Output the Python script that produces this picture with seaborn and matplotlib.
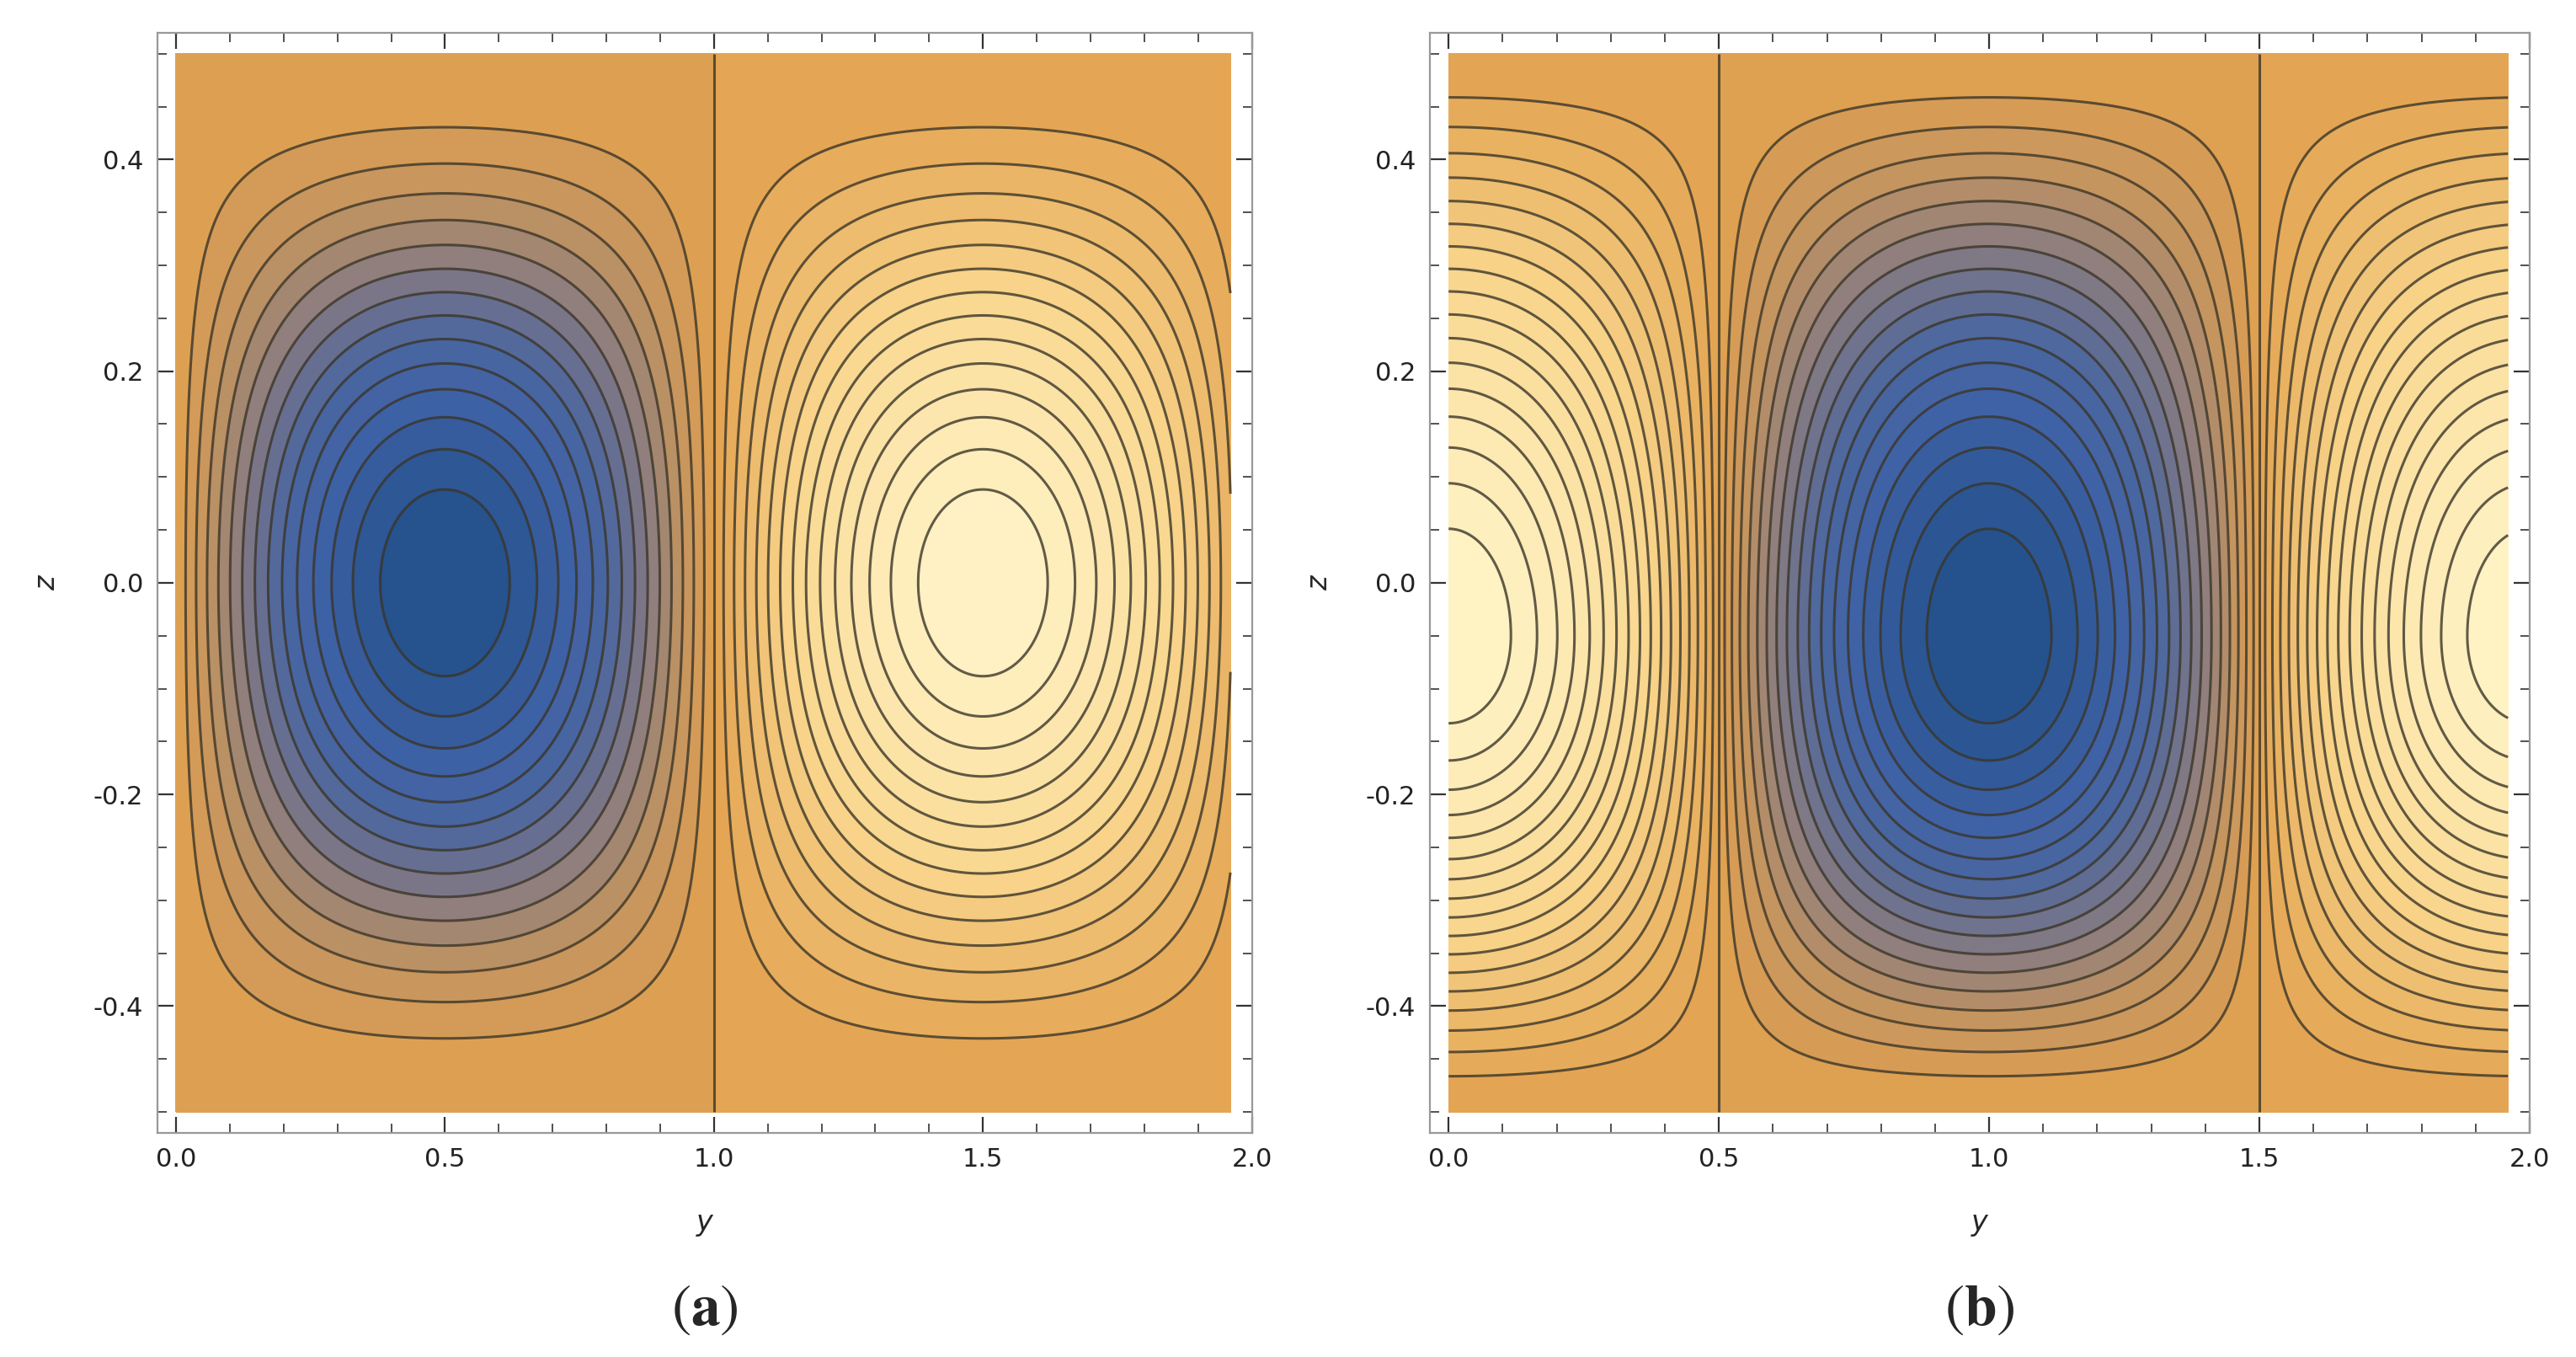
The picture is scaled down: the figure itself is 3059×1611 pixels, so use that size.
import numpy as np
import matplotlib
matplotlib.use("Agg")
import matplotlib.pyplot as plt
import seaborn as sns
from matplotlib.colors import LinearSegmentedColormap

# --- values ---
y_range = [0.0, 1.96]
z_range = [-0.5, 0.5]
# panel (a): cells centred at y=0.5 (min) and 1.5 (max), z centre 0.0
a_exp_y, a_exp_z, a_zc, a_nlev = 0.94, 1.77, 0.0, 31
# panel (b): min at y=1.0, max at y=0 / 2, centre z=-0.05
b_exp_y, b_exp_z, b_zc, b_nlev = 0.85, 1.35, -0.05, 37
x_ticks = [0.0, 0.5, 1.0, 1.5, 2.0]
z_ticks = [-0.4, -0.2, 0.0, 0.2, 0.4]
captions = ["(a)", "(b)"]

sns.set_style("ticks")
plt.rcParams['font.family'] = ['DejaVu Sans']
plt.rcParams['mathtext.fontset'] = 'stix'
plt.rcParams['contour.negative_linestyle'] = 'solid'

cmap = LinearSegmentedColormap.from_list("mma", [
    (0.0, "#22508a"), (0.12, "#3f62a6"), (0.2, "#4a66a0"), (0.3, "#857a82"),
    (0.4, "#c49460"), (0.5, "#e2a24f"), (0.72, "#f8d48a"), (1.0, "#fff3c6")])

Y, Z = np.meshgrid(np.linspace(*y_range, 400), np.linspace(*z_range, 400))

def zmap(z, zc):
    return np.where(z > zc, (z - zc) / (0.5 - zc) * 0.5, (z - zc) / (0.5 + zc) * 0.5)

s_a = np.sin(np.pi * Y)
F_a = -np.sign(s_a) * np.abs(s_a) ** a_exp_y * np.cos(np.pi * zmap(Z, a_zc)) ** a_exp_z
c_b = np.cos(np.pi * Y)
F_b = np.sign(c_b) * np.abs(c_b) ** b_exp_y * np.cos(np.pi * zmap(Z, b_zc)) ** b_exp_z

fig = plt.figure(figsize=(15.295, 8.055), dpi=200)
boxes = [[0.061, 0.165, 0.425, 0.811], [0.555, 0.165, 0.427, 0.811]]
for i, (F, n) in enumerate([(F_a, a_nlev), (F_b, b_nlev)]):
    ax = fig.add_axes(boxes[i])
    lev = np.linspace(-1.0001, 1.0001, n)
    ax.contourf(Y, Z, F, levels=lev, cmap=cmap, vmin=-1, vmax=1)
    ax.contour(Y, Z, F, levels=lev[1:-1], colors="#3a3528", linewidths=1.1,
               alpha=0.8, linestyles='solid')
    ax.set_xlim(-0.035, 2.0)
    ax.set_ylim(-0.52, 0.52)
    ax.set_xticks(x_ticks)
    ax.set_yticks(z_ticks)
    ax.set_xticks(np.arange(0, 2.0, 0.1), minor=True)
    ax.set_yticks(np.arange(-0.5, 0.51, 0.05), minor=True)
    ax.xaxis.set_major_formatter(plt.FormatStrFormatter('%.1f'))
    ax.yaxis.set_major_formatter(plt.FormatStrFormatter('%.1f'))
    ax.tick_params(which='both', direction='in', top=True, right=True,
                   labelsize=11, colors='#333333', labelcolor='#222222')
    ax.tick_params(which='major', length=7, width=0.8, pad=6)
    ax.tick_params(which='minor', length=4, width=0.6)
    for sp in ax.spines.values():
        sp.set_color('#999999'); sp.set_linewidth(0.8)
    ax.set_xlabel("y", style='italic', fontsize=12, labelpad=16)
    ax.set_ylabel("z", style='italic', fontsize=12, labelpad=14)
    cx = boxes[i][0] + boxes[i][2] / 2
    fig.text(cx, 0.015, r"$(\mathbf{%s})$" % captions[i][1], ha='center',
             va='bottom', fontsize=25)

fig.savefig("out.png", dpi=200)
